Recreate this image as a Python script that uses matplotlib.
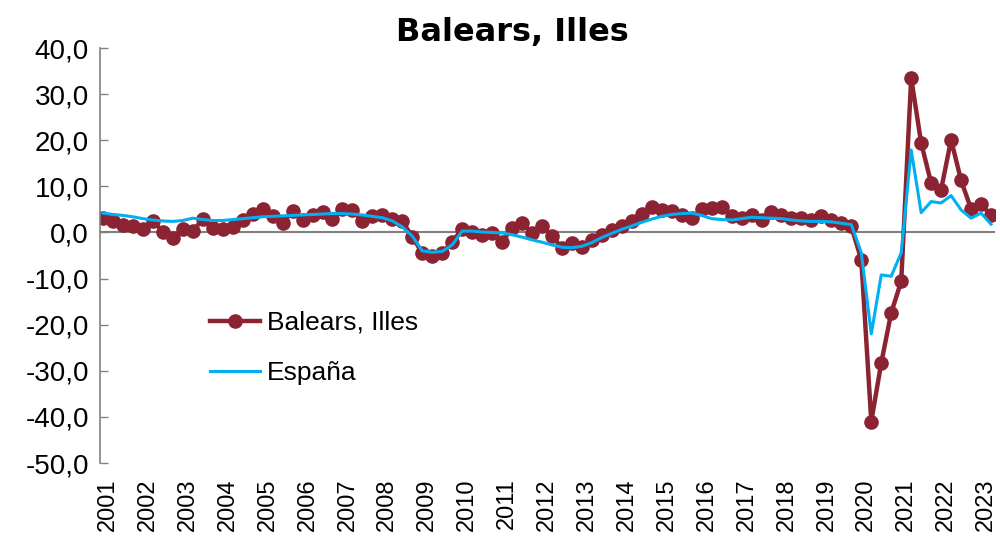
import matplotlib
matplotlib.use("Agg")
import matplotlib.pyplot as plt
import numpy as np

years = [str(y) for y in range(2001, 2024)]

balears = [
    3.2, 2.4, 1.6, 1.4,
    0.7, 2.5, 0.2, -1.2,
    0.8, 0.3, 2.9, 1.0,
    0.7, 1.1, 2.6, 3.9,
    5.0, 3.5, 2.1, 4.6,
    2.8, 3.8, 4.5, 2.9,
    5.0, 4.8, 2.4, 3.5,
    3.8, 2.9, 2.4, -0.9,
    -4.5, -5.2, -4.5, -2.0,
    0.7, 0.0, -0.5, -0.1,
    -2.0, 0.9, 2.0, -0.1,
    1.5, -0.7, -3.4, -2.2,
    -3.2, -1.6, -0.5, 0.6,
    1.3, 2.4, 4.1, 5.6,
    4.9, 4.6, 3.8, 3.1,
    5.0, 5.3, 5.6, 3.5,
    3.1, 3.8, 2.6, 4.5,
    3.7, 3.1, 3.1, 2.6,
    3.5, 2.6, 2.0, 1.3,
    -5.9, -41.0, -28.3, -17.4,
    -10.6, 33.5, 19.4, 10.7,
    9.3, 20.1, 11.3, 5.1,
    6.2, 3.7,
]

espana = [
    4.2, 3.9, 3.7, 3.4,
    3.0, 2.7, 2.5, 2.4,
    2.6, 3.1, 2.8, 2.6,
    2.6, 2.8, 3.0, 3.2,
    3.4, 3.5, 3.6, 3.7,
    3.8, 3.9, 4.0, 4.1,
    4.1, 4.0, 3.8, 3.5,
    3.2, 2.5, 1.2, -0.8,
    -4.0, -4.3, -4.1, -2.7,
    0.3, 0.3, 0.1, 0.0,
    -0.1, -0.5, -1.0, -1.6,
    -2.1, -2.7, -3.2, -3.3,
    -3.0, -2.2, -1.1, -0.2,
    0.7, 1.4, 2.2, 2.9,
    3.5, 3.9, 4.1, 4.2,
    3.7, 3.0, 2.8, 2.7,
    3.0, 3.3, 3.2, 3.1,
    3.0, 2.7, 2.5, 2.4,
    2.4, 2.3, 2.0, 1.7,
    -4.4, -22.0, -9.2, -9.5,
    -4.4, 17.9, 4.3, 6.7,
    6.4, 8.0, 4.9, 3.1,
    4.2, 1.8,
]

yticks = [40, 30, 20, 10, 0, -10, -20, -30, -40, -50]

plt.rcParams['font.family'] = ['Liberation Sans', 'DejaVu Sans']

fig = plt.figure(figsize=(10, 5.46), dpi=100)
ax = fig.add_axes([0.100, 0.152, 0.895, 0.760])

x = np.arange(len(balears))
ax.axhline(0, color='#808080', lw=1.5, zorder=1)
ax.plot(x, balears, color='#8B2332', lw=3.2, marker='o', ms=9.5,
        label='Balears, Illes', zorder=2)
ax.plot(np.arange(len(espana)), espana, color='#00B0F0', lw=2.2,
        label='España', zorder=3)

ax.set_ylim(-50, 40)
ax.set_xlim(-0.3, len(balears) - 0.6)
ax.set_yticks(yticks)
ax.set_yticklabels([f"{v:.1f}".replace('.', ',') for v in yticks], fontsize=20)
ax.tick_params(axis='y', direction='in', length=6, width=1, color='#808080', pad=8)

xt = [i * 4 + 0.5 for i in range(len(years))]
ax.set_xticks(xt)
ax.set_xticklabels(years, rotation=90, fontsize=17)
ax.tick_params(axis='x', length=0, pad=11)

for s in ['top', 'right', 'bottom']:
    ax.spines[s].set_visible(False)
ax.spines['left'].set_color('#808080')
ax.spines['left'].set_linewidth(1.2)

leg = ax.legend(loc='center left', bbox_to_anchor=(0.096, 0.277), frameon=False,
                fontsize=19, handlelength=1.9, handletextpad=0.27, labelspacing=1.0)

fig.text(0.512, 1 - 33 / 546, 'Balears, Illes', ha='center', va='center',
         fontsize=23, fontweight='bold', family='DejaVu Sans')

fig.savefig('out.png', dpi=100)
